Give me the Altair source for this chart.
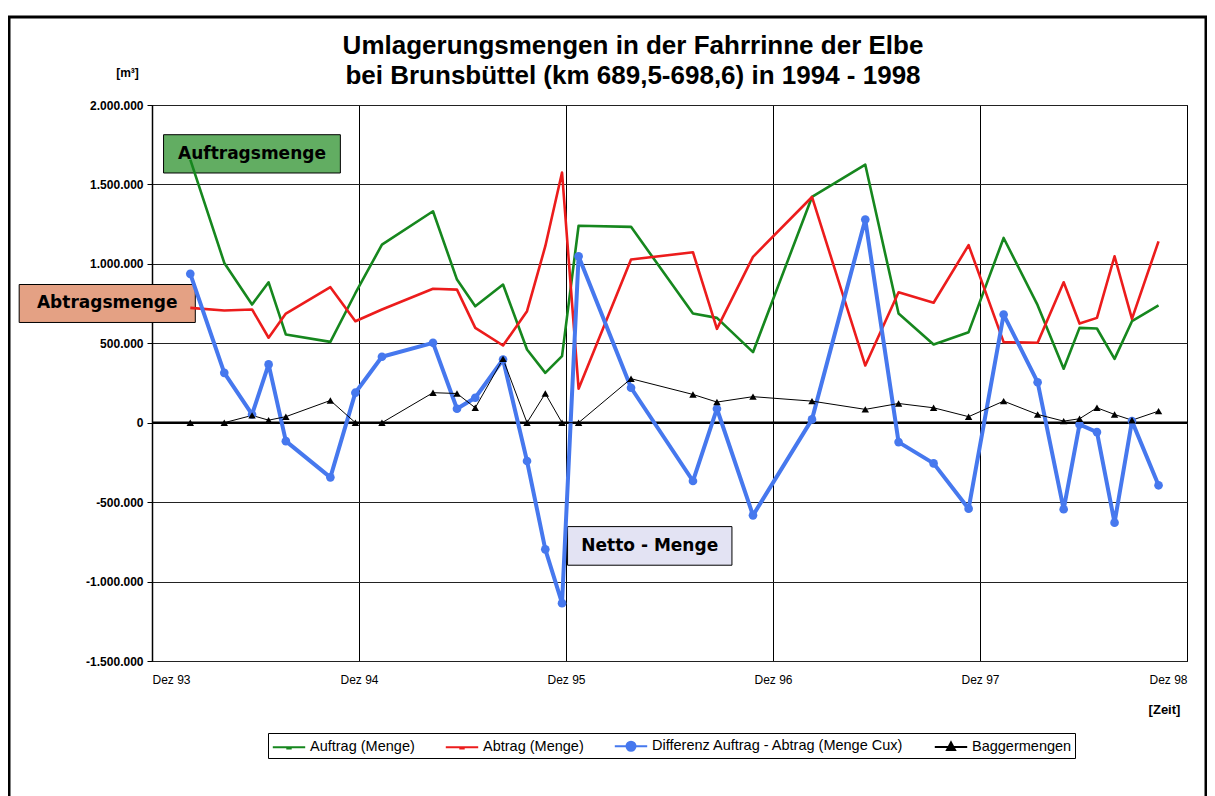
import altair as alt
import pandas as pd

# ---- data (x = months after Dez 93, y = m³) ----
months = [2.22, 4.19, 5.80, 6.76, 7.76, 10.34, 11.79, 13.33, 16.29, 17.68, 18.74,
          20.35, 21.74, 22.80, 23.77, 24.73, 27.77, 31.36, 32.75, 34.84, 38.26,
          41.35, 43.28, 45.31, 47.34, 49.37, 51.34, 52.85, 53.77, 54.78, 55.80,
          56.81, 58.35]
auftrag = [1656000, 1006000, 744000, 884000, 555000, 509000, 815000, 1121000,
           1331000, 901000, 733000, 870000, 461000, 314000, 419000, 1240000,
           1233000, 687000, 660000, 444000, 1421000, 1624000, 687000, 492000,
           570000, 1163000, 740000, 340000, 597000, 593000, 402000, 639000, 738000]
abtrag = [723000, 706000, 713000, 535000, 687000, 853000, 639000, 713000,
          843000, 838000, 597000, 486000, 702000, 1111000, 1575000, 214000,
          1027000, 1073000, 591000, 1044000, 1421000, 360000, 821000, 755000,
          1118000, 507000, 503000, 884000, 624000, 660000, 1048000, 654000, 1142000]
differenz = [937000, 314000, 52000, 367000, -116000, -344000, 189000, 415000,
             503000, 88000, 157000, 398000, -241000, -797000, -1136000, 1048000,
             220000, -367000, 88000, -583000, 21000, 1279000, -122000, -256000,
             -541000, 681000, 255000, -545000, -11000, -59000, -629000, 10000, -394000]
bagger = [0, 0, 46000, 16000, 38000, 140000, 0, 0, 189000, 184000, 94000,
          402000, 0, 184000, 0, 0, 277000, 178000, 130000, 164000, 136000,
          84000, 121000, 94000, 38000, 136000, 52000, 10000, 25000, 94000,
          52000, 16000, 73000]

series = ["Auftrag (Menge)", "Abtrag (Menge)",
          "Differenz Auftrag - Abtrag (Menge Cux)", "Baggermengen"]
colors = ["#16871e", "#ec1c1c", "#4678ee", "#000000"]
widths = [2.6, 2.6, 4.0, 1.0]

x_ticks = [0, 12, 24, 36, 48, 60]
x_tick_labels = ["Dez 93", "Dez 94", "Dez 95", "Dez 96", "Dez 97", "Dez 98"]
y_ticks = [-1500000, -1000000, -500000, 0, 500000, 1000000, 1500000, 2000000]

ann_text = ["Auftragsmenge", "Abtragsmenge", "Netto - Menge"]
ann_x0 = [0.67, -7.70, 24.09]
ann_x1 = [10.92, 2.51, 33.62]
ann_y0 = [1813000, 870000, -654000]
ann_y1 = [1572000, 631000, -897000]
ann_fill = ["#62ad62", "#e4a184", "#e3e3f3"]

title_lines = ["Umlagerungsmengen in der Fahrrinne der Elbe",
               "bei Brunsbüttel (km 689,5-698,6) in 1994 - 1998"]

# ---- tables ----
rows = []
for name, vals in zip(series, [auftrag, abtrag, differenz, bagger]):
    for m, v in zip(months, vals):
        rows.append({"Monat": m, "Menge": v, "Reihe": name})
df = pd.DataFrame(rows)

ann = pd.DataFrame({"t": ann_text, "x0": ann_x0, "x1": ann_x1,
                    "y0": ann_y0, "y1": ann_y1, "fill": ann_fill})
ann["xc"] = (ann["x0"] + ann["x1"]) / 2
ann["yc"] = (ann["y0"] + ann["y1"]) / 2

FONT = "Liberation Sans"
xscale = alt.Scale(domain=[0, 60], nice=False, zero=False)
yscale = alt.Scale(domain=[-1500000, 2000000], nice=False, zero=False)

x_label_expr = "[" + ",".join("'%s'" % s for s in x_tick_labels) + "][indexof([" + \
    ",".join(str(v) for v in x_ticks) + "], datum.value)]"
y_label_expr = ("(datum.value < 0 ? '-' : '') + "
                "replace(format(abs(datum.value), ','), regexp(',', 'g'), '.')")

x_axis = alt.Axis(values=x_ticks, labelExpr=x_label_expr, title="[Zeit]", grid=True,
                  ticks=False, domain=False, labelPadding=13, labelFontSize=12,
                  labelFont=FONT, labelColor="black",
                  gridColor="black", gridOpacity=1, gridWidth=1,
                  titleX=1012, titleY=48, titleAngle=0, titleAlign="center",
                  titleBaseline="middle", titleFontWeight="bold", titleFontSize=13,
                  titleFont=FONT, titleColor="black")
y_axis = alt.Axis(values=y_ticks, labelExpr=y_label_expr, title="[m³]", grid=True,
                  gridColor="#222222", gridOpacity=1, gridWidth=1,
                  ticks=True, tickSize=5, tickColor="black", tickWidth=1,
                  domain=True, domainColor="black", domainWidth=1.5,
                  labelFont=FONT, labelFontSize=12, labelFontWeight="bold",
                  labelColor="black", labelPadding=4,
                  titleX=-25, titleY=-33, titleAngle=0, titleAlign="center",
                  titleBaseline="middle", titleFontWeight="bold", titleFontSize=12,
                  titleFont=FONT, titleColor="black")


def X(field):
    return alt.X(field, type="quantitative", scale=xscale, axis=x_axis)


def Y(field):
    return alt.Y(field, type="quantitative", scale=yscale, axis=y_axis)


one = pd.DataFrame({"a": [0]})

# frame around the whole slide
frame = alt.Chart(one).mark_rect(
    filled=False, stroke="black", strokeWidth=3
).encode(x=alt.value(-143), x2=alt.value(1054), y=alt.value(-88), y2=alt.value(705))

# title as two text lines
title1 = alt.Chart(one).mark_text(
    font=FONT, fontSize=26, fontWeight="bold", color="black", baseline="alphabetic"
).encode(x=alt.value(481), y=alt.value(-51), text=alt.value(title_lines[0]))
title2 = alt.Chart(one).mark_text(
    font=FONT, fontSize=26, fontWeight="bold", color="black", baseline="alphabetic"
).encode(x=alt.value(481), y=alt.value(-21), text=alt.value(title_lines[1]))

# zero line
zero = alt.Chart(pd.DataFrame({"Monat": [0.0, 60.0], "Menge": [0, 0]})).mark_line(
    color="black", strokeWidth=2.5
).encode(x=X("Monat"), y=Y("Menge"))

# annotation boxes (under the lines)
ann_box = alt.Chart(ann).mark_rect(stroke="black", strokeWidth=1).encode(
    x=X("x0"), x2="x1", y=Y("y0"), y2="y1",
    fill=alt.Fill("fill:N", scale=None))
ann_txt = alt.Chart(ann).mark_text(font="DejaVu Sans", fontWeight="bold",
                                   fontSize=17, color="black").encode(
    x=X("xc"), y=Y("yc"), text="t:N")

layers = [frame, title1, title2, zero, ann_box, ann_txt]
for name, col, w in zip(series, colors, widths):
    layers.append(
        alt.Chart(df).transform_filter(alt.datum.Reihe == name)
        .mark_line(color=col, strokeWidth=w, strokeJoin="round")
        .encode(x=X("Monat"), y=Y("Menge"))
    )

blue_pts = alt.Chart(df).transform_filter(alt.datum.Reihe == series[2]).mark_point(
    shape="circle", filled=True, size=75, color=colors[2], opacity=1
).encode(x=X("Monat"), y=Y("Menge"))
black_pts = alt.Chart(df).transform_filter(alt.datum.Reihe == series[3]).mark_point(
    shape="triangle-up", filled=True, size=55, color=colors[3], opacity=1
).encode(x=X("Monat"), y=Y("Menge"))
layers += [blue_pts, black_pts]

# legend-only layer
sym_line = "M-1.8,0H1.8M-0.3,0.15H0.3"
sym_circle = "M-1.8,0H1.8M0.5,0A0.5,0.5,0,1,1,-0.5,0A0.5,0.5,0,1,1,0.5,0Z"
sym_tri = "M-1.8,0H1.8M0,-0.5L0.45,0.35L-0.45,0.35Z"
shapes = [sym_line, sym_line, sym_circle, sym_tri]

leg = alt.Legend(title=None, orient="none", legendX=116, legendY=628,
                 direction="horizontal", strokeColor="black", padding=3,
                 symbolSize=324, symbolStrokeWidth=2, symbolOffset=8,
                 labelFont=FONT, labelFontSize=14.5, labelColor="black",
                 labelLimit=0, columnPadding=26, labelOffset=11)
legend_layer = alt.Chart(df).transform_filter("datum.Monat < -100").mark_point(
    filled=True, strokeWidth=2, size=324, opacity=1
).encode(
    fill=alt.Fill("Reihe:N", scale=alt.Scale(domain=series, range=colors), legend=leg),
    stroke=alt.Stroke("Reihe:N", scale=alt.Scale(domain=series, range=colors), legend=leg),
    shape=alt.Shape("Reihe:N", scale=alt.Scale(domain=series, range=shapes), legend=leg),
)
layers.append(legend_layer)

chart = alt.layer(*layers).properties(
    width=1035, height=556,
    padding={"left": 144, "top": 97, "right": 20, "bottom": 135},
    autosize=alt.AutoSizeParams(type="none"),
    background="white",
).configure_view(stroke="black", strokeWidth=1)

chart.save("out.html", embed_options={"renderer": "svg", "actions": False})
